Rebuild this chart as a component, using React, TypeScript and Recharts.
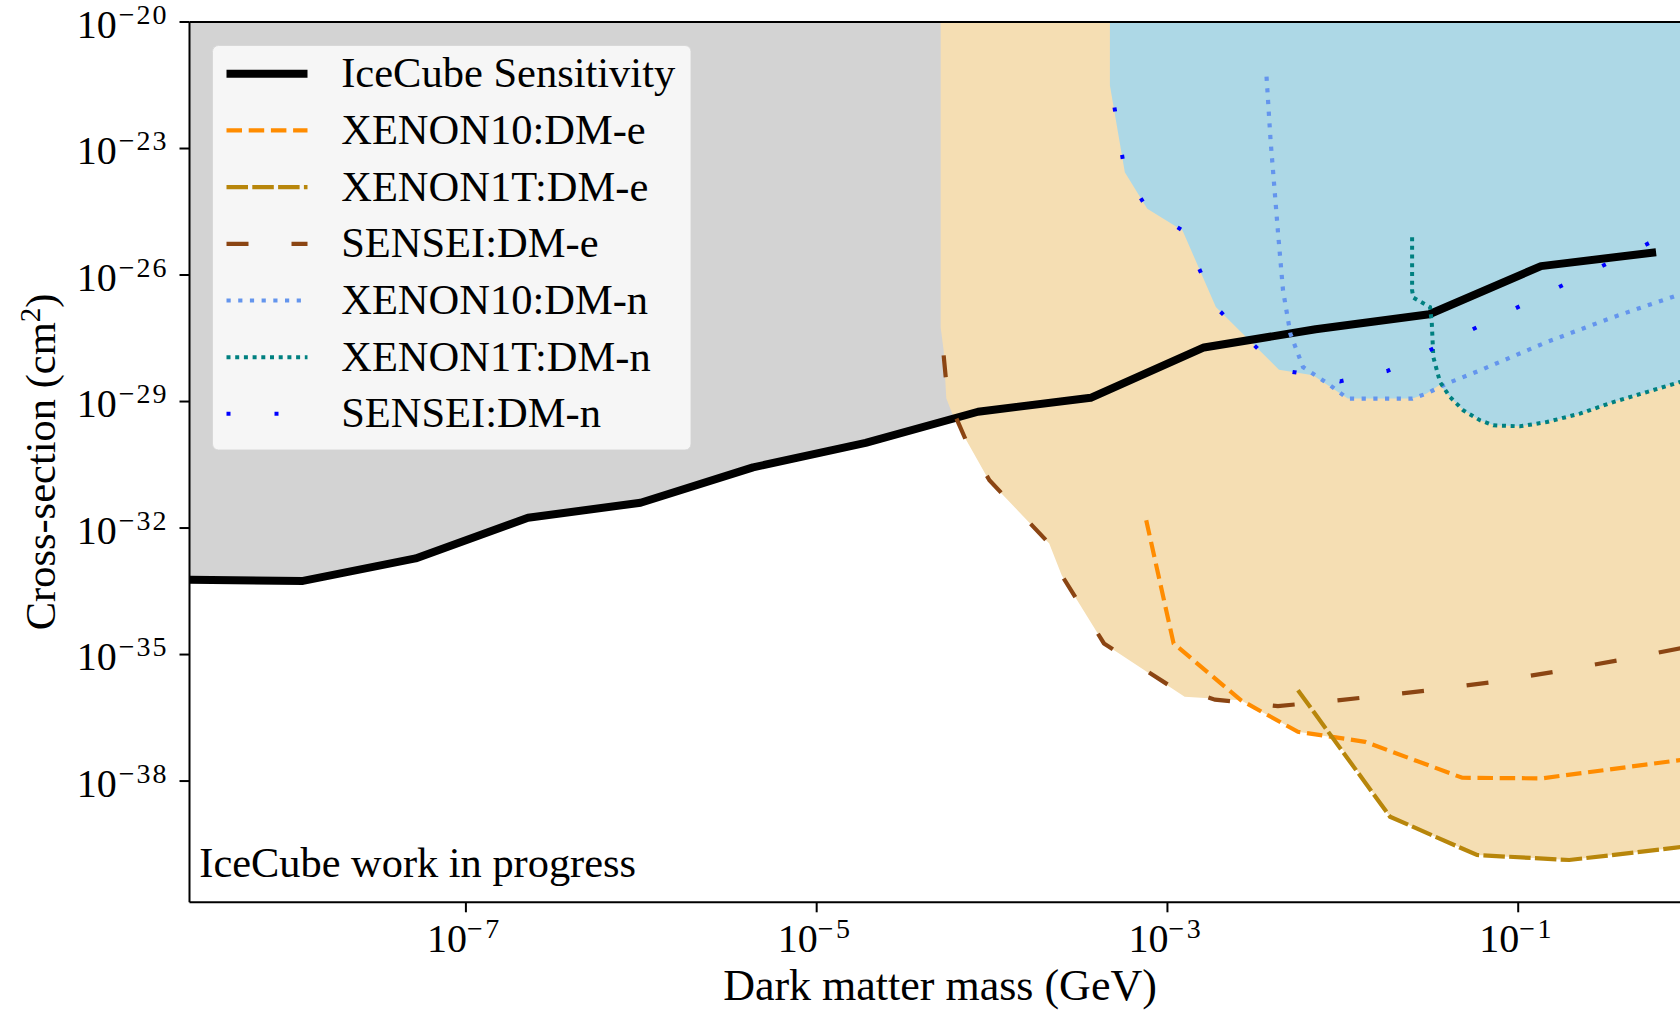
import React from 'react';
import { ComposedChart, Line, Area, XAxis, YAxis, ReferenceLine, Legend } from 'recharts';

// Axis ranges (log10 units)
const MASS_MIN_LOG = -8.576;
const MASS_MAX_LOG = 0;
const SIGMA_MIN_LOG = -40.875;
const SIGMA_MAX_LOG = -20;

const X_TICKS_LOG = [-7, -5, -3, -1];
const Y_TICKS_LOG = [-20, -23, -26, -29, -32, -35, -38];

// IceCube sensitivity: log10(mass/GeV), log10(sigma/cm^2)
const ICECUBE_LOGM = [-8.576, -7.929, -7.287, -6.646, -6.004, -5.363, -4.721, -4.08, -3.438, -2.792, -2.155, -1.507, -0.87, -0.214];
const ICECUBE_LOGS = [-33.227, -33.253, -32.72, -31.756, -31.4, -30.562, -29.979, -29.242, -28.912, -27.718, -27.287, -26.931, -25.789, -25.46];

// XENON10 DM-e
const X10E_LOGM = [-3.121, -2.965, -2.582, -2.256, -1.873, -1.319, -0.865, 0];
const X10E_LOGS = [-31.815, -34.737, -36.081, -36.832, -37.069, -37.922, -37.936, -37.46];

// XENON1T DM-e
const X1TE_LOGM = [-2.256, -1.731, -1.235, -0.709, 0];
const X1TE_LOGS = [-35.844, -38.846, -39.754, -39.872, -39.53];

// SENSEI DM-e
const SENE_LOGM = [-4.276, -4.257, -4.223, -4.149, -4.015, -3.674, -3.603, -3.362, -2.993, -2.729, -2.37, -2.016, -1.532, -1.161, -0.796, -0.425, 0];
const SENE_LOGS = [-27.905, -28.735, -29.209, -29.919, -30.867, -32.367, -33.118, -34.737, -35.725, -36.069, -36.223, -36.081, -35.86, -35.661, -35.41, -35.133, -34.79];

// XENON10 DM-n
const X10N_LOGM = [-2.435, -2.412, -2.369, -2.341, -2.299, -2.227, -2.085, -1.972, -1.603, -1.524, -1.408, -1.218, -0.837, -0.458, 0];
const X10N_LOGS = [-21.294, -22.81, -25.021, -26.365, -27.391, -28.182, -28.576, -28.931, -28.931, -28.813, -28.576, -28.261, -27.59, -26.998, -26.35];

// XENON1T DM-n
const X1TN_LOGM = [-1.605, -1.605, -1.598, -1.503, -1.493, -1.484, -1.446, -1.389, -1.313, -1.218, -1.142, -0.99, -0.837, -0.648, -0.458, -0.267, 0];
const X1TN_LOGS = [-25.102, -26.365, -26.538, -26.761, -27.116, -27.946, -28.538, -28.893, -29.209, -29.445, -29.564, -29.588, -29.486, -29.287, -29.012, -28.775, -28.44];

// SENSEI DM-n
const SENN_LOGM = [-3.302, -3.243, -3.115, -2.914, -2.724, -2.562, -2.364, -2.17, -2.016, -1.747, -0.273, 0];
const SENN_LOGS = [-22.028, -23.562, -24.429, -24.943, -26.761, -27.431, -28.244, -28.379, -28.521, -28.277, -25.282, -24.7];

// Lower edge of the DM-e excluded region (wheat)
const DME_REGION_LOGM = [-4.293, -4.276, -4.261, -4.228, -4.157, -4.018, -3.674, -3.603, -3.362, -2.902, -2.582, -2.256, -2.05, -1.731, -1.235, -0.709, 0];
const DME_REGION_LOGS = [-27.242, -27.787, -28.924, -29.28, -29.841, -30.867, -32.367, -33.118, -34.737, -36.003, -36.081, -36.832, -36.969, -38.846, -39.754, -39.872, -39.53];

// Lower edge of the DM-n excluded region (light blue)
const DMN_REGION_LOGM = [-3.328, -3.243, -3.115, -2.914, -2.724, -2.562, -2.364, -2.17, -1.972, -1.603, -1.524, -1.446, -1.389, -1.313, -1.218, -1.142, -0.99, -0.837, -0.648, -0.458, -0.267, 0];
const DMN_REGION_LOGS = [-21.507, -23.562, -24.429, -24.943, -26.761, -27.431, -28.244, -28.379, -28.931, -28.931, -28.813, -28.6, -28.893, -29.209, -29.445, -29.564, -29.588, -29.486, -29.287, -29.012, -28.775, -28.44];

const SERIF = '"Liberation Serif", "Times New Roman", serif';

const toPoints = (lm: number[], ls: number[]) => lm.map((m, i) => ({ x: Math.pow(10, m), y: Math.pow(10, ls[i]) }));
const toBand = (lm: number[], ls: number[]) =>
  lm.map((m, i) => ({ x: Math.pow(10, m), band: [Math.pow(10, ls[i]), Math.pow(10, SIGMA_MAX_LOG)] }));

const SERIES = [
  { name: 'IceCube Sensitivity', data: toPoints(ICECUBE_LOGM, ICECUBE_LOGS), color: '#000000', width: 8, dash: undefined as string | undefined },
  { name: 'XENON10:DM-e', data: toPoints(X10E_LOGM, X10E_LOGS), color: '#FF8C00', width: 4.2, dash: '15.5 6.7' },
  { name: 'XENON1T:DM-e', data: toPoints(X1TE_LOGM, X1TE_LOGS), color: '#B8860B', width: 4.2, dash: '21.5 4.3' },
  { name: 'SENSEI:DM-e', data: toPoints(SENE_LOGM, SENE_LOGS), color: '#8B4513', width: 4.2, dash: '22 43' },
  { name: 'XENON10:DM-n', data: toPoints(X10N_LOGM, X10N_LOGS), color: '#6495ED', width: 4.2, dash: '4.2 7.5' },
  { name: 'XENON1T:DM-n', data: toPoints(X1TN_LOGM, X1TN_LOGS), color: '#008080', width: 4, dash: '4 4.7' },
  { name: 'SENSEI:DM-n', data: toPoints(SENN_LOGM, SENN_LOGS), color: '#0000FF', width: 4, dash: '4 44' },
];

const ICECUBE_BAND = toBand(ICECUBE_LOGM, ICECUBE_LOGS);
const DME_BAND = toBand(DME_REGION_LOGM, DME_REGION_LOGS);
const DMN_BAND = toBand(DMN_REGION_LOGM, DMN_REGION_LOGS);

const XTick = (props: any) => {
  const { x, y, payload } = props;
  const e = Math.round(Math.log10(payload.value));
  return (
    <g>
      <text x={x + 1} y={y + 39.4} textAnchor="end" fontFamily={SERIF} fontSize={40} fill="#000">10</text>
      <text x={x + 1} y={y + 26} textAnchor="start" fontFamily={SERIF} fontSize={28} letterSpacing={2.5} fill="#000">{'\u2212' + Math.abs(e)}</text>
    </g>
  );
};

const YTick = (props: any) => {
  const { x, y, payload } = props;
  const e = Math.round(Math.log10(payload.value));
  return (
    <text x={x - 11} y={y + 15.7} textAnchor="end" fontFamily={SERIF} fontSize={40} fill="#000">
      10
      <tspan dy={-14} dx={2} fontSize={28} letterSpacing={2}>{'\u2212' + Math.abs(e)}</tspan>
    </text>
  );
};

const LEGEND_W = 479.5;
const LEGEND_H = 405.5;

const renderLegend = () => (
  <div style={{ width: LEGEND_W, height: LEGEND_H }}>
    <svg width={LEGEND_W} height={LEGEND_H} style={{ display: 'block' }}>
      <rect x={0.5} y={0.5} width={LEGEND_W - 1} height={LEGEND_H - 1} rx={6} ry={6} fill="#f6f6f6" stroke="#d8d8d8" strokeWidth={1} />
      {SERIES.map((s, i) => {
        const cy = 28.8 + i * 56.67;
        return (
          <g key={s.name}>
            <line x1={14.5} x2={95.5} y1={cy} y2={cy} stroke={s.color} strokeWidth={s.width} strokeDasharray={s.dash} />
            <text x={129.2} y={cy + 13.4} fontFamily={SERIF} fontSize={42.5} fill="#000">{s.name}</text>
          </g>
        );
      })}
    </svg>
  </div>
);

export default function App() {
  return (
    <div style={{ position: 'absolute', left: 0, top: 0, width: 1680, height: 1011, overflow: 'hidden', background: '#ffffff' }}>
      <ComposedChart width={1720} height={1011} margin={{ top: 22, right: 26.4, bottom: 0, left: 0 }}>
        <Area data={ICECUBE_BAND} dataKey="band" type="linear" stroke="none" fill="#D3D3D3" fillOpacity={1} isAnimationActive={false} dot={false} activeDot={false} legendType="none" />
        <Area data={DME_BAND} dataKey="band" type="linear" stroke="none" fill="#F5DEB3" fillOpacity={1} isAnimationActive={false} dot={false} activeDot={false} legendType="none" />
        <Area data={DMN_BAND} dataKey="band" type="linear" stroke="none" fill="#ADD8E6" fillOpacity={1} isAnimationActive={false} dot={false} activeDot={false} legendType="none" />
        {SERIES.map((s) => (
          <Line
            key={s.name}
            name={s.name}
            data={s.data}
            dataKey="y"
            type="linear"
            stroke={s.color}
            strokeWidth={s.width}
            strokeDasharray={s.dash}
            strokeLinejoin={s.dash ? 'miter' : 'round'}
            dot={false}
            activeDot={false}
            isAnimationActive={false}
          />
        ))}
        <ReferenceLine y={Math.pow(10, SIGMA_MAX_LOG)} stroke="#000" strokeWidth={2} ifOverflow="visible" />
        <ReferenceLine x={Math.pow(10, MASS_MAX_LOG)} stroke="#000" strokeWidth={2} ifOverflow="visible" />
        <XAxis
          dataKey="x"
          type="number"
          scale="log"
          domain={[Math.pow(10, MASS_MIN_LOG), Math.pow(10, MASS_MAX_LOG)]}
          allowDataOverflow
          ticks={X_TICKS_LOG.map((e) => Math.pow(10, e))}
          tick={<XTick />}
          tickSize={10}
          tickMargin={0}
          height={108.7}
          axisLine={{ stroke: '#000', strokeWidth: 2 }}
          tickLine={{ stroke: '#000', strokeWidth: 2 }}
        />
        <YAxis
          type="number"
          scale="log"
          domain={[Math.pow(10, SIGMA_MIN_LOG), Math.pow(10, SIGMA_MAX_LOG)]}
          allowDataOverflow
          ticks={Y_TICKS_LOG.map((e) => Math.pow(10, e))}
          tick={<YTick />}
          tickSize={10}
          tickMargin={0}
          width={189.5}
          axisLine={{ stroke: '#000', strokeWidth: 2 }}
          tickLine={{ stroke: '#000', strokeWidth: 2 }}
        />
        <Legend
          layout="vertical"
          align="center"
          verticalAlign="middle"
          content={renderLegend}
          wrapperStyle={{ left: 211.5, top: 44.5, width: LEGEND_W, height: LEGEND_H, margin: 0, padding: 0 }}
        />
      </ComposedChart>
      <svg width={1680} height={1011} style={{ position: 'absolute', left: 0, top: 0, pointerEvents: 'none' }}>
        <text x={199.3} y={877} fontFamily={SERIF} fontSize={42.4} fill="#000">IceCube work in progress</text>
        <text x={940} y={1000} textAnchor="middle" fontFamily={SERIF} fontSize={44} fill="#000">Dark matter mass (GeV)</text>
        <text transform="translate(55,462) rotate(-90)" textAnchor="middle" fontFamily={SERIF} fontSize={42.5} fill="#000">
          Cross-section (cm
          <tspan dy={-15} fontSize={29}>2</tspan>
          <tspan dy={15}>)</tspan>
        </text>
      </svg>
    </div>
  );
}
